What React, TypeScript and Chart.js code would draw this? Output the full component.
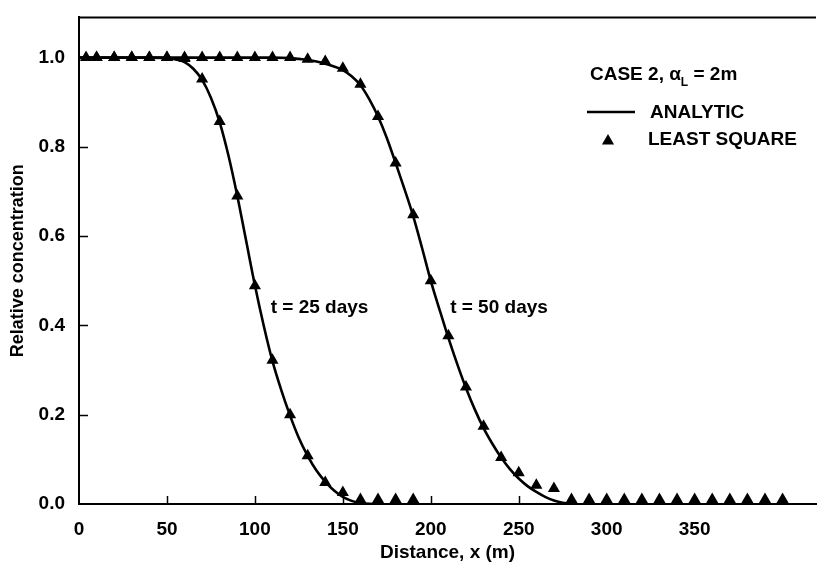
import React, { useEffect, useRef } from 'react';
import { Chart, registerables } from 'chart.js';

Chart.register(...registerables);

// ---- data ----
const X_TICKS = [0, 50, 100, 150, 200, 250, 300, 350];
const Y_TICKS = [0, 0.2, 0.4, 0.6, 0.8, 1.0];
const X_MIN = 0;
const X_MAX = 419;
const Y_MIN = 0;
const Y_MAX = 1.09;

// analytic solution, t = 25 days
const CURVE_25_X = [0, 40, 50, 55, 60, 65, 70, 75, 80, 85, 90, 95, 100, 105, 110, 115, 120, 125, 130, 135, 140, 145, 150, 155, 160, 168];
const CURVE_25_Y = [1, 1, 0.999, 0.996, 0.99, 0.975, 0.95, 0.91, 0.855, 0.78, 0.69, 0.59, 0.49, 0.4, 0.32, 0.255, 0.198, 0.148, 0.108, 0.075, 0.05, 0.03, 0.016, 0.007, 0.002, 0];

// analytic solution, t = 50 days
const CURVE_50_X = [0, 110, 120, 125, 130, 135, 140, 145, 150, 155, 160, 165, 170, 175, 180, 185, 190, 195, 200, 205, 210, 215, 220, 225, 230, 235, 240, 245, 250, 255, 260, 265, 270, 275, 282];
const CURVE_50_Y = [1, 1, 0.999, 0.997, 0.995, 0.991, 0.986, 0.98, 0.972, 0.958, 0.938, 0.907, 0.868, 0.82, 0.764, 0.706, 0.645, 0.574, 0.5, 0.435, 0.372, 0.314, 0.26, 0.212, 0.17, 0.135, 0.104, 0.078, 0.057, 0.04, 0.027, 0.016, 0.008, 0.003, 0];

// least-square solution, t = 25 days
const LS_25_X = [4, 10, 20, 30, 40, 50, 60, 70, 80, 90, 100, 110, 120, 130, 140, 150, 160, 170, 180, 190];
const LS_25_Y = [1, 1, 1, 1, 1, 1, 0.998, 0.952, 0.857, 0.69, 0.489, 0.322, 0.2, 0.108, 0.048, 0.026, 0.01, 0.01, 0.01, 0.01];

// least-square solution, t = 50 days
const LS_50_X = [10, 20, 30, 40, 50, 60, 70, 80, 90, 100, 110, 120, 130, 140, 150, 160, 170, 180, 190, 200, 210, 220, 230, 240, 250, 260, 270, 280, 290, 300, 310, 320, 330, 340, 350, 360, 370, 380, 390, 400];
const LS_50_Y = [1, 1, 1, 1, 1, 1, 1, 1, 1, 1, 1, 1, 0.996, 0.991, 0.976, 0.94, 0.868, 0.764, 0.648, 0.5, 0.377, 0.262, 0.174, 0.104, 0.07, 0.042, 0.035, 0.01, 0.01, 0.01, 0.01, 0.01, 0.01, 0.01, 0.01, 0.01, 0.01, 0.01, 0.01, 0.01];

const FONT = '"Liberation Sans", Arial, sans-serif';

const zip = (xs: number[], ys: number[]) => xs.map((x, i) => ({ x, y: ys[i] }));

const drawTriangle = (ctx: CanvasRenderingContext2D, cx: number, cy: number, r: number) => {
  ctx.beginPath();
  ctx.moveTo(cx, cy - r);
  ctx.lineTo(cx + Math.sin((2 * Math.PI) / 3) * r, cy + r / 2);
  ctx.lineTo(cx - Math.sin((2 * Math.PI) / 3) * r, cy + r / 2);
  ctx.closePath();
  ctx.fill();
};

const decorPlugin = {
  id: 'decor',
  afterDraw(chart: any) {
    const { ctx, chartArea: a, scales } = chart;
    const xs = scales.x;
    const ys = scales.y;
    ctx.save();
    ctx.strokeStyle = '#000';
    ctx.fillStyle = '#000';
    // top frame line
    ctx.lineWidth = 2;
    ctx.beginPath();
    ctx.moveTo(a.left, a.top);
    ctx.lineTo(a.right, a.top);
    ctx.stroke();
    // inward tick marks
    ctx.lineWidth = 1.5;
    X_TICKS.forEach((v) => {
      if (v === X_MIN) return;
      const px = Math.round(xs.getPixelForValue(v)) + 0.5;
      ctx.beginPath();
      ctx.moveTo(px, a.bottom);
      ctx.lineTo(px, a.bottom - 8);
      ctx.stroke();
    });
    Y_TICKS.forEach((v) => {
      if (v === Y_MIN) return;
      const py = Math.round(ys.getPixelForValue(v)) + 0.5;
      ctx.beginPath();
      ctx.moveTo(a.left, py);
      ctx.lineTo(a.left + 9, py);
      ctx.stroke();
    });
    // curve labels
    ctx.font = `bold 19px ${FONT}`;
    ctx.textBaseline = 'middle';
    ctx.textAlign = 'left';
    ctx.fillText('t = 25 days', xs.getPixelForValue(109), ys.getPixelForValue(0.44));
    ctx.fillText('t = 50 days', xs.getPixelForValue(211), ys.getPixelForValue(0.44));
    // legend
    ctx.font = `bold 19px ${FONT}`;
    const caseA = 'CASE 2, α';
    ctx.fillText(caseA, 590, 75);
    let cx = 590 + ctx.measureText(caseA).width;
    ctx.font = `bold 12px ${FONT}`;
    ctx.fillText('L', cx, 83);
    cx += ctx.measureText('L').width;
    ctx.font = `bold 19px ${FONT}`;
    ctx.fillText(' = 2m', cx, 75);
    ctx.lineWidth = 2.5;
    ctx.beginPath();
    ctx.moveTo(587, 112);
    ctx.lineTo(635, 112);
    ctx.stroke();
    ctx.fillText('ANALYTIC', 650, 113);
    drawTriangle(ctx, 608, 141, 7);
    ctx.fillText('LEAST SQUARE', 648, 140);
    ctx.restore();
  },
};

export default function App() {
  const canvasRef = useRef<HTMLCanvasElement | null>(null);

  useEffect(() => {
    if (!canvasRef.current) return;
    const lineDs = (xs: number[], ys: number[]) => ({
      data: zip(xs, ys),
      showLine: true,
      borderColor: '#000',
      borderWidth: 2.6,
      pointRadius: 0,
      fill: false,
      cubicInterpolationMode: 'monotone' as const,
    });
    const markDs = (xs: number[], ys: number[]) => ({
      data: zip(xs, ys),
      showLine: false,
      pointStyle: 'triangle' as const,
      pointRadius: 7,
      pointBackgroundColor: '#000',
      pointBorderColor: '#000',
      pointBorderWidth: 0,
    });
    const chart = new Chart(canvasRef.current, {
      type: 'scatter',
      data: {
        datasets: [
          lineDs(CURVE_25_X, CURVE_25_Y),
          lineDs(CURVE_50_X, CURVE_50_Y),
          markDs(LS_25_X, LS_25_Y),
          markDs(LS_50_X, LS_50_Y),
        ] as any,
      },
      options: {
        responsive: false,
        animation: false,
        events: [],
        layout: { padding: { top: 9, right: 1, left: 0, bottom: 0 } },
        plugins: { legend: { display: false }, tooltip: { enabled: false } },
        scales: {
          x: {
            type: 'linear',
            min: X_MIN,
            max: X_MAX,
            afterBuildTicks: (s: any) => {
              s.ticks = X_TICKS.map((v) => ({ value: v }));
            },
            afterFit: (s: any) => {
              s.height = 66;
            },
            grid: { display: false },
            border: { display: true, color: '#000', width: 2 },
            ticks: {
              color: '#000',
              padding: 6,
              maxRotation: 0,
              autoSkip: false,
              font: { family: FONT, size: 19, weight: 'bold' },
              callback: (v: any) => String(v),
            },
            title: {
              display: true,
              text: 'Distance, x (m)',
              color: '#000',
              font: { family: FONT, size: 19, weight: 'bold' },
              padding: { top: 0, bottom: 6 },
            },
          },
          y: {
            type: 'linear',
            min: Y_MIN,
            max: Y_MAX,
            afterBuildTicks: (s: any) => {
              s.ticks = Y_TICKS.map((v) => ({ value: v }));
            },
            afterFit: (s: any) => {
              s.width = 79;
            },
            grid: { display: false },
            border: { display: true, color: '#000', width: 2 },
            ticks: {
              color: '#000',
              padding: 6,
              autoSkip: false,
              font: { family: FONT, size: 19, weight: 'bold' },
              callback: (v: any) => Number(v).toFixed(1),
            },
            title: {
              display: true,
              text: 'Relative concentration',
              color: '#000',
              font: { family: FONT, size: 18, weight: 'bold' },
              padding: { top: 7, bottom: 0 },
            },
          },
        },
      },
      plugins: [decorPlugin],
    });
    return () => chart.destroy();
  }, []);

  return (
    <div style={{ position: 'absolute', left: 0, top: 0, width: 823, height: 570, background: '#fff' }}>
      <canvas ref={canvasRef} width={823} height={570} style={{ display: 'block' }} />
    </div>
  );
}
